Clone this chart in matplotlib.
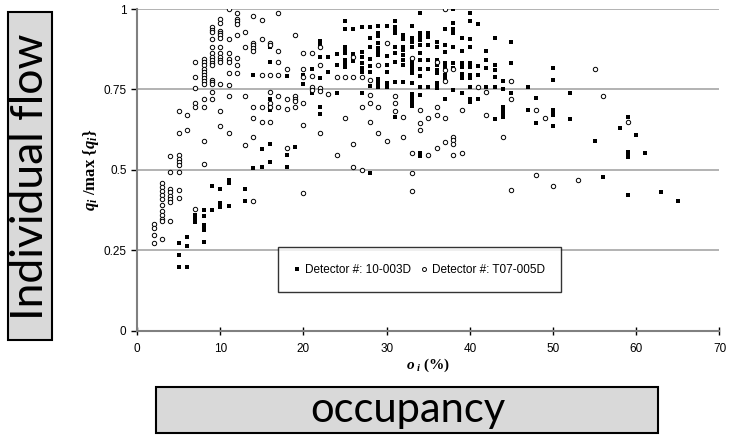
import matplotlib
matplotlib.use('Agg')
import matplotlib.pyplot as plt
from matplotlib.patches import Rectangle

# Detector 10-003D (filled squares): occupancy columns and flow values in each
sq_occ = [5, 6, 7, 8, 9, 10, 11, 13, 14, 15, 16, 18, 19, 20, 21, 22, 23, 24, 25, 26,
          27, 28, 29, 30, 31, 32, 33, 34, 35, 36, 37, 38, 39, 40, 41, 42, 43, 44, 45,
          47, 48, 50, 52, 55, 56, 58, 59, 60, 61, 63, 65]
sq_flow = [
    [0.274, 0.234, 0.198],
    [0.291, 0.262, 0.198],
    [0.36, 0.352, 0.345, 0.338],
    [0.375, 0.356, 0.328, 0.32, 0.312, 0.275],
    [0.451, 0.375],
    [0.441, 0.396, 0.39, 0.383],
    [0.468, 0.46, 0.388],
    [0.441, 0.404],
    [0.795, 0.507],
    [0.565, 0.508],
    [0.883, 0.835, 0.721, 0.694, 0.686, 0.58, 0.524],
    [0.792, 0.545, 0.508],
    [0.572],
    [0.794, 0.767],
    [0.815, 0.738],
    [0.9, 0.89, 0.852, 0.785, 0.694, 0.674],
    [0.852, 0.804],
    [0.86, 0.825, 0.74],
    [0.964, 0.937, 0.883, 0.872, 0.862, 0.841, 0.831, 0.821],
    [0.937, 0.86, 0.838],
    [0.945, 0.867, 0.852, 0.831, 0.818, 0.805, 0.738],
    [0.945, 0.909, 0.883, 0.844, 0.823, 0.805, 0.761, 0.489],
    [0.947, 0.926, 0.916, 0.893, 0.88, 0.868, 0.857, 0.781, 0.769, 0.756],
    [0.947, 0.854, 0.826, 0.805, 0.769, 0.756],
    [0.964, 0.945, 0.934, 0.924, 0.883, 0.862, 0.836, 0.774, 0.665],
    [0.919, 0.906, 0.883, 0.873, 0.857, 0.841, 0.825, 0.774],
    [0.947, 0.909, 0.896, 0.883, 0.839, 0.826, 0.814, 0.802, 0.769, 0.736, 0.723, 0.71, 0.698],
    [0.989, 0.926, 0.912, 0.904, 0.888, 0.862, 0.841, 0.812, 0.792, 0.756, 0.733, 0.553, 0.543],
    [0.926, 0.914, 0.888, 0.841, 0.812, 0.756],
    [0.898, 0.883, 0.841, 0.826, 0.81, 0.8, 0.769, 0.761, 0.753],
    [0.937, 0.888, 0.867, 0.831, 0.821, 0.795, 0.781, 0.721],
    [1.0, 0.955, 0.937, 0.93, 0.924, 0.883, 0.833, 0.816, 0.748],
    [0.909, 0.87, 0.831, 0.821, 0.798, 0.784, 0.738],
    [0.989, 0.964, 0.906, 0.883, 0.831, 0.821, 0.795, 0.784, 0.756, 0.721, 0.712],
    [0.953, 0.823, 0.795, 0.721],
    [0.87, 0.841, 0.816, 0.756],
    [0.909, 0.826, 0.81, 0.788, 0.756, 0.657],
    [0.777, 0.75, 0.694, 0.686, 0.678, 0.665],
    [0.898, 0.833, 0.74],
    [0.756, 0.686],
    [0.722, 0.647],
    [0.816, 0.779, 0.686, 0.678, 0.67, 0.636],
    [0.738, 0.657],
    [0.591],
    [0.479],
    [0.629],
    [0.665, 0.556, 0.548, 0.541, 0.422],
    [0.608],
    [0.551],
    [0.432],
    [0.404],
]

# Detector T07-005D (open circles)
ci_occ = [2, 3, 4, 5, 6, 7, 8, 9, 10, 11, 12, 13, 14, 15, 16, 17, 18, 19, 20, 21, 22,
          23, 24, 25, 26, 27, 28, 29, 30, 31, 32, 33, 34, 35, 36, 37, 38, 39, 41, 42,
          44, 45, 48, 49, 50, 53, 55, 56, 59]
ci_flow = [
    [0.332, 0.318, 0.297, 0.274],
    [0.46, 0.448, 0.435, 0.423, 0.41, 0.39, 0.373, 0.361, 0.348, 0.342, 0.284],
    [0.544, 0.494, 0.44, 0.43, 0.42, 0.41, 0.4, 0.342],
    [0.684, 0.613, 0.545, 0.535, 0.525, 0.514, 0.494, 0.437, 0.414],
    [0.67, 0.624],
    [0.835, 0.789, 0.753, 0.707, 0.696, 0.377],
    [0.846, 0.836, 0.826, 0.815, 0.805, 0.795, 0.785, 0.775, 0.766, 0.719, 0.694, 0.589, 0.519],
    [0.945, 0.935, 0.928, 0.906, 0.883, 0.862, 0.852, 0.841, 0.831, 0.825, 0.779, 0.773, 0.767, 0.743, 0.719],
    [0.968, 0.958, 0.933, 0.925, 0.918, 0.91, 0.883, 0.862, 0.852, 0.843, 0.835, 0.767, 0.684, 0.636],
    [1.0, 0.906, 0.862, 0.846, 0.835, 0.802, 0.765, 0.73, 0.613],
    [0.989, 0.968, 0.962, 0.953, 0.919, 0.848, 0.825, 0.802],
    [0.93, 0.883, 0.73, 0.577],
    [0.978, 0.895, 0.887, 0.879, 0.87, 0.694, 0.66, 0.603, 0.402],
    [0.966, 0.906, 0.794, 0.694, 0.649],
    [0.895, 0.887, 0.794, 0.743, 0.709, 0.694, 0.649],
    [0.989, 0.87, 0.835, 0.794, 0.73, 0.694],
    [0.812, 0.721, 0.69, 0.567],
    [0.919, 0.73, 0.721, 0.713, 0.694],
    [0.862, 0.812, 0.788, 0.707, 0.638, 0.427],
    [0.862, 0.792, 0.757, 0.748],
    [0.883, 0.825, 0.754, 0.746, 0.613],
    [0.735],
    [0.79, 0.545],
    [0.79, 0.66],
    [0.852, 0.79, 0.579, 0.508],
    [0.79, 0.694, 0.5],
    [0.779, 0.734, 0.707, 0.65],
    [0.826, 0.696, 0.613],
    [0.895, 0.591],
    [0.73, 0.707, 0.684],
    [0.665, 0.603],
    [0.847, 0.553, 0.491, 0.435],
    [0.686, 0.647, 0.624],
    [0.66, 0.546],
    [0.836, 0.694, 0.67, 0.567],
    [1.0, 0.81, 0.775, 0.66, 0.588],
    [0.812, 0.603, 0.592, 0.58, 0.546],
    [0.686, 0.553],
    [0.756],
    [0.743, 0.67],
    [0.603],
    [0.777, 0.719, 0.437],
    [0.686, 0.484],
    [0.66],
    [0.45],
    [0.47],
    [0.812],
    [0.73],
    [0.649],
]

x_ticks = [0, 10, 20, 30, 40, 50, 60, 70]
y_ticks = [0, 0.25, 0.5, 0.75, 1]
y_tick_labels = ['0', '0.25', '0.5', '0.75', '1']

# expand columns into point lists
sq_x = [o for o, col in zip(sq_occ, sq_flow) for _ in col]
sq_y = [v for col in sq_flow for v in col]
ci_x = [o for o, col in zip(ci_occ, ci_flow) for _ in col]
ci_y = [v for col in ci_flow for v in col]

plt.rcParams['font.family'] = ['Liberation Sans', 'DejaVu Sans']
plt.rcParams['mathtext.fontset'] = 'custom'
plt.rcParams['mathtext.it'] = 'Liberation Serif:italic:bold'
plt.rcParams['mathtext.rm'] = 'Liberation Serif:bold'
plt.rcParams['mathtext.bf'] = 'Liberation Serif:bold'

fig = plt.figure(figsize=(7.3, 4.4), dpi=100)
ax = fig.add_axes([137 / 730, 1 - 330.7 / 440, 582.5 / 730, 321.7 / 440])

ax.scatter(sq_x, sq_y, marker='s', s=11, c='black', linewidths=0,
           label='Detector #: 10-003D', zorder=3)
ax.scatter(ci_x, ci_y, marker='o', s=10, facecolors='white', edgecolors='black',
           linewidths=0.7, label='Detector #: T07-005D', zorder=3)

ax.set_xlim(0, 70)
ax.set_ylim(0, 1)
ax.set_xticks(x_ticks)
ax.set_yticks(y_ticks)
ax.set_yticklabels(y_tick_labels)
ax.tick_params(labelsize=8.5, colors='black', length=4, width=1)
ax.tick_params(axis='x', direction='inout', length=6, pad=6)

for yv in y_ticks[1:]:
    ax.axhline(yv, color='#a6a6a6', linewidth=1.2, zorder=1)

for side in ['top', 'right']:
    ax.spines[side].set_visible(False)
for side in ['left', 'bottom']:
    ax.spines[side].set_color('#808080')
    ax.spines[side].set_linewidth(1.5)

ax.set_ylabel(r'$q_i\ /\mathrm{max}\ \{q_i\}$', fontsize=12, labelpad=2)
ax.set_xlabel(r'$o_{\ i}\ \mathrm{(\%)}$', fontsize=11, labelpad=1)

leg = ax.legend(loc='center', bbox_to_anchor=(0.485, 0.19), ncol=2, fontsize=8.5,
                frameon=True, fancybox=False, handletextpad=0.4, markerscale=0.9,
                borderpad=1.4, columnspacing=0.9, handlelength=0.5, borderaxespad=0)
leg.get_frame().set_edgecolor('black')
leg.get_frame().set_linewidth(1.0)

# grey label boxes
fig.patches.append(Rectangle((8 / 730, 1 - 340 / 440), 44 / 730, 328 / 440,
                             transform=fig.transFigure, facecolor='#d9d9d9',
                             edgecolor='black', linewidth=1.5))
fig.text(31 / 730, 1 - 177 / 440, 'Individual flow', rotation=90, ha='center',
         va='center', fontsize=32, family='Lato')
fig.patches.append(Rectangle((156 / 730, 1 - 433 / 440), 502 / 730, 46 / 440,
                             transform=fig.transFigure, facecolor='#d9d9d9',
                             edgecolor='black', linewidth=1.5))
fig.text(408 / 730, 1 - 410 / 440, 'occupancy', ha='center', va='center',
         fontsize=30, family='Lato')

fig.savefig('out.png', dpi=100)
